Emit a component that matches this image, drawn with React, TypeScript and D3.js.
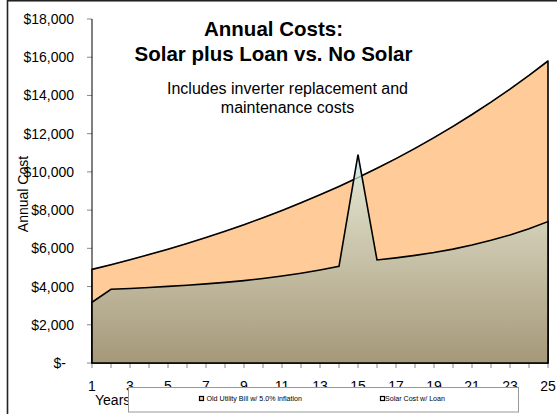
import React from "react";
import * as d3 from "d3";

// Project years 1..25
const years: number[] = d3.range(1, 26);

// Old utility bill, growing 5.0% per year
const utilityBill: number[] = [
  4900, 5145, 5402, 5672, 5956, 6254, 6567, 6895, 7240, 7602, 7982, 8381, 8800,
  9240, 9702, 10187, 10696, 11231, 11793, 12382, 13001, 13651, 14334, 15051, 15803,
];

// Solar cost with loan (inverter replacement in year 15)
const solarCost: number[] = [
  3180, 3860, 3900, 3950, 4010, 4070, 4140, 4220, 4310, 4420, 4550, 4700, 4870,
  5060, 10900, 5390, 5500, 5630, 5780, 5960, 6170, 6420, 6700, 7030, 7400,
];

const yTicks: number[] = d3.range(0, 18001, 2000);
const xTickLabels: number[] = [1, 3, 5, 7, 9, 11, 13, 15, 17, 19, 21, 23, 25];

const titleLines = ["Annual Costs:", "Solar plus Loan vs. No Solar"];
const subtitleLines = ["Includes inverter replacement and", "maintenance costs"];
const legendItems = [
  { label: "Old Utility Bill w/ 5.0% inflation", color: "#ffcc99" },
  { label: "Solar Cost w/ Loan", color: "#ffffff" },
];

const FONT = "'Liberation Sans', Arial, Helvetica, sans-serif";

export default function App() {
  const W = 557;
  const H = 414;
  const plot = { left: 92, right: 548, top: 19, bottom: 363 };

  const x = d3.scaleLinear().domain([1, 25]).range([plot.left, plot.right]);
  const y = d3.scaleLinear().domain([0, 18000]).range([plot.bottom, plot.top]);

  const area = (vals: number[]) =>
    d3
      .area<number>()
      .x((_, i) => x(years[i]))
      .y0(y(0))
      .y1((d) => y(d))(vals) as string;

  const line = (vals: number[]) =>
    d3
      .line<number>()
      .x((_, i) => x(years[i]))
      .y((d) => y(d))(vals) as string;

  const money = d3.format("$,");

  return (
    <svg
      width={W}
      height={H}
      style={{ position: "absolute", left: 0, top: 0, display: "block" }}
      fontFamily={FONT}
    >
      <defs>
        <linearGradient id="solarFill" x1="0" y1="0" x2="0" y2="1">
          <stop offset="0" stopColor="#c8f4f8" />
          <stop offset="0.17" stopColor="#dcdcc6" />
          <stop offset="1" stopColor="#a69879" />
        </linearGradient>
      </defs>
      <rect x={0} y={0} width={W} height={H} fill="#ffffff" />
      <rect x={7.5} y={0.75} width={700} height={700} fill="none" stroke="#222" strokeWidth={1.6} />

      {/* y axis */}
      {yTicks.map((t) => (
        <g key={t}>
          <line x1={plot.left - 5} x2={plot.left} y1={y(t)} y2={y(t)} stroke="#888" strokeWidth={1} />
          <text
            x={t === 0 ? 66 : 74}
            y={y(t)}
            dy="0.36em"
            textAnchor="end"
            fontSize={14}
            fill="#000"
          >
            {t === 0 ? "$-" : money(t)}
          </text>
        </g>
      ))}
      <line x1={plot.left} x2={plot.left} y1={plot.top} y2={plot.bottom} stroke="#000" strokeWidth={1} />

      {/* x axis ticks */}
      {years.map((yr) => (
        <line key={yr} x1={x(yr)} x2={x(yr)} y1={plot.bottom} y2={plot.bottom + 5} stroke="#888" strokeWidth={1} />
      ))}
      {xTickLabels.map((yr) => (
        <text key={yr} x={x(yr)} y={391} textAnchor="middle" fontSize={14} fill="#000">
          {yr}
        </text>
      ))}

      {/* areas */}
      <path d={area(utilityBill)} fill="#ffcc99" stroke="#000" strokeWidth={1.6} strokeLinejoin="round" />
      <path d={area(solarCost)} fill="url(#solarFill)" stroke="#000" strokeWidth={1.6} strokeLinejoin="miter" />
      <path d={line(utilityBill)} fill="none" stroke="#000" strokeWidth={1.2} strokeOpacity={0.3} />

      {/* axis titles */}
      <text transform="translate(28,194) rotate(-90)" textAnchor="middle" fontSize={14} fill="#000">
        Annual Cost
      </text>
      <text x={95} y={405} fontSize={14} fill="#000">
        Years
      </text>

      {/* titles */}
      {titleLines.map((t, i) => (
        <text
          key={t}
          x={273.5}
          y={35.7 + i * 24.8}
          textAnchor="middle"
          fontSize={20.5}
          fontWeight="bold"
          fill="#000"
        >
          {t}
        </text>
      ))}
      {subtitleLines.map((t, i) => (
        <text key={t} x={287.5} y={94 + i * 18.7} textAnchor="middle" fontSize={16} fill="#000">
          {t}
        </text>
      ))}

      {/* legend */}
      <rect x={128.5} y={387.5} width={390} height={24.5} fill="#fff" stroke="#999" strokeWidth={1} />
      {legendItems.map((it, i) => {
        const lx = i === 0 ? 199.5 : 380.5;
        return (
          <g key={it.label}>
            <rect x={lx} y={396.5} width={4} height={4} fill={it.color} stroke="#000" strokeWidth={1.2} />
            <text x={lx + (i === 0 ? 7 : 4.5)} y={399} dy="0.35em" fontSize={7.1} fill="#000">
              {it.label}
            </text>
          </g>
        );
      })}
    </svg>
  );
}
